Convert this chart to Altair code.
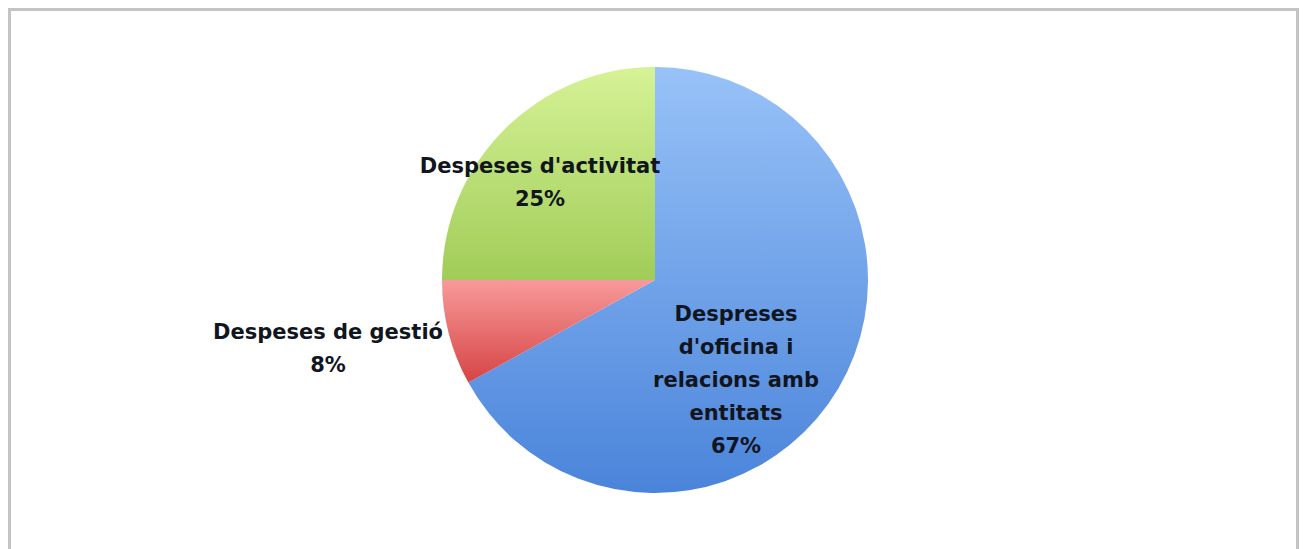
import altair as alt
import pandas as pd

categories = ["Despreses d'oficina i relacions amb entitats", "Despeses de gestió", "Despeses d'activitat"]
values = [67, 8, 25]
label_lines = [
    ["Despreses", "d'oficina i", "relacions amb", "entitats", "67%"],
    ["Despeses de gestió", "8%"],
    ["Despeses d'activitat", "25%"],
]
gradients = [
    ("#98c2f8", "#4a84da"),
    ("#f89a9a", "#d64444"),
    ("#d6f296", "#a0cc58"),
]
# label anchor positions (chart px, first line) for each category
label_pos = [(728, 307), (320, 325), (532, 159)]

df = pd.DataFrame({"cat": categories, "value": values, "idx": [0, 1, 2]})

base = alt.Chart(df).transform_window(
    end="sum(value)", sort=[alt.SortField("idx")], frame=[None, 0]
).transform_calculate(start="datum.end - datum.value")

CX, CY, R = 647, 272, 213

layers = []
frame = alt.Chart(pd.DataFrame({"a": [0]})).mark_rect(
    fill="white", stroke="#c4c4c4", strokeWidth=3
).encode(x=alt.value(1.5), x2=alt.value(1289.5), y=alt.value(1.5), y2=alt.value(700))
layers.append(frame)

for i, cat in enumerate(categories):
    top, bot = gradients[i]
    grad = alt.LinearGradient(
        gradient="linear", x1=0, y1=0, x2=0, y2=1,
        stops=[alt.GradientStop(offset=0, color=top), alt.GradientStop(offset=1, color=bot)],
    )
    layers.append(
        base.transform_filter(alt.datum.idx == i).mark_arc(
            fill=grad, outerRadius=R
        ).encode(
            theta=alt.Theta("start:Q", scale=alt.Scale(domain=[0, 100])),
            theta2="end:Q",
            x=alt.value(CX), y=alt.value(CY),
        )
    )

for i, lines in enumerate(label_lines):
    lx, ly = label_pos[i]
    layers.append(
        alt.Chart(pd.DataFrame({"t": ["\n".join(lines)]})).mark_text(
            font="DejaVu Sans", fontSize=21, fontWeight="bold", color="#11151d",
            lineBreak="\n", lineHeight=33, align="center", baseline="middle",
        ).encode(text="t:N", x=alt.value(lx), y=alt.value(ly))
    )

chart = alt.layer(*layers).properties(
    width=1291, height=541, padding=0,
    autosize=alt.AutoSizeParams(type="fit", contains="padding"),
    background="white",
).configure_view(stroke=None)

chart.save("out.html", embed_options={"renderer": "svg", "actions": False})
